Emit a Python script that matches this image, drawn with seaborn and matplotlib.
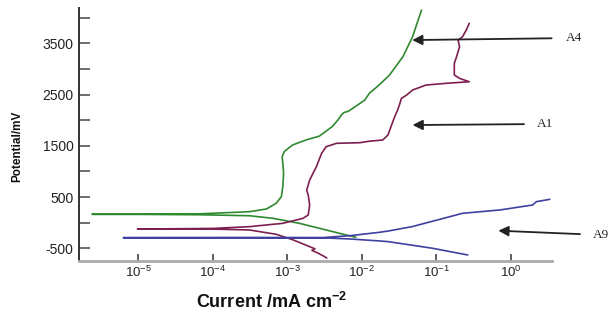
import numpy as np
import pandas as pd
import matplotlib
matplotlib.use("Agg")
import matplotlib.pyplot as plt
import seaborn as sns

# ---- data (log10 of current density in mA cm^-2, potential in mV) ----
a4_logi = [-2.08, -2.21, -2.48, -2.84, -3.19, -3.51, -4.2, -5.0, -5.62,
           -5.0, -4.2, -3.51, -3.28, -3.15, -3.08, -3.06, -3.05, -3.06, -3.07,
           -3.04, -2.93, -2.75, -2.57, -2.40, -2.32, -2.27, -2.24, -2.18, -2.09,
           -1.96, -1.90, -1.76, -1.63, -1.45, -1.32, -1.20]
a4_E = [-285, -240, -142, -12, 85, 136, 155, 162, 164,
        166, 172, 214, 267, 378, 508, 706, 966, 1159, 1288,
        1390, 1516, 1614, 1690, 1873, 2006, 2110, 2150, 2175, 2264,
        2394, 2524, 2700, 2880, 3239, 3629, 4150]

a1_logi = [-2.47, -2.50, -2.58, -2.67, -2.63, -2.70, -2.92, -3.15, -3.51, -4.0,
           -4.5, -5.01, -4.5, -4.0, -3.51, -3.06, -2.79, -2.72, -2.70, -2.72,
           -2.74, -2.70, -2.61, -2.54, -2.48, -2.34, -2.03, -1.90, -1.72, -1.65,
           -1.61, -1.56, -1.52, -1.49, -1.47, -1.40, -1.32, -1.14, -0.87, -0.56,
           -0.69, -0.76, -0.76, -0.73, -0.69, -0.71, -0.65, -0.60, -0.56]
a1_E = [-690, -663, -600, -540, -510, -468, -337, -226, -142, -125,
        -122, -125, -118, -112, -78, -12, 85, 150, 345, 540,
        637, 833, 1093, 1354, 1483, 1549, 1561, 1590, 1614, 1711,
        1873, 2068, 2199, 2329, 2427, 2491, 2589, 2686, 2720, 2751,
        2817, 2882, 3110, 3239, 3434, 3564, 3629, 3759, 3890]

a9_logi = [-0.58, -1.05, -1.64, -1.76, -2.16, -2.52, -3.5, -4.5, -5.20,
           -4.5, -3.5, -2.52, -2.16, -1.76, -1.64, -1.32, -0.65, -0.15, 0.29,
           0.34, 0.52]
a9_E = [-630, -500, -371, -357, -318, -296, -293, -293, -293,
        -292, -291, -290, -254, -187, -161, -75, 183, 248, 345,
        410, 456]

series_names = ["A4", "A1", "A9"]
series_colors = ["#2f8a2f", "#7d1f50", "#4040a0"]

y_major = [-500, 500, 1500, 2500, 3500]
y_minor = [0, 1000, 2000, 3000, 4000]
x_ticks = [1e-5, 1e-4, 1e-3, 1e-2, 1e-1, 1e0]
x_ticklabels = [r"$\mathregular{10^{-5}}$", r"$\mathregular{10^{-4}}$",
                r"$\mathregular{10^{-3}}$", r"$\mathregular{10^{-2}}$",
                r"$\mathregular{10^{-1}}$", r"$\mathregular{10^{0}}$"]

# annotation arrow tips (log10 current, potential)
ann_tip_logi = [-1.325, -1.32, -0.17]
ann_tip_E = [3564, 1906, -156]

rows = []
for name, li, ee in zip(series_names, [a4_logi, a1_logi, a9_logi], [a4_E, a1_E, a9_E]):
    for k, (l, e) in enumerate(zip(li, ee)):
        rows.append({"series": name, "order": k, "current": 10.0 ** l, "potential": e})
df = pd.DataFrame(rows)

sns.set_style("ticks")
plt.rcParams["font.family"] = ["Liberation Sans", "DejaVu Sans"]
plt.rcParams["mathtext.fontset"] = "custom"
plt.rcParams["mathtext.rm"] = "Liberation Sans"

W, H = 613, 320
fig = plt.figure(figsize=(W / 100, H / 100), dpi=100)
ax = fig.add_axes([79.3 / W, (H - 260.5) / H, (552 - 79.3) / W, (260.5 - 8) / H])

sns.lineplot(data=df, x="current", y="potential", hue="series",
             palette=dict(zip(series_names, series_colors)),
             sort=False, estimator=None, legend=False, lw=1.2, ax=ax)

ax.set_xscale("log")
ax.set_xlim(10 ** -5.79, 10 ** 0.55)
ax.set_ylim(-738, 4190)

ax.set_xticks(x_ticks)
ax.set_xticklabels(x_ticklabels, fontsize=9.5, color="#222222")
ax.xaxis.set_minor_locator(matplotlib.ticker.NullLocator())
ax.set_yticks(y_major)
ax.set_yticklabels([str(v) for v in y_major], fontsize=10, color="#222222")
ax.set_yticks(y_minor, minor=True)

ax.tick_params(axis="y", which="both", direction="in", length=8, width=1.1,
               color="#444444", pad=4)
ax.tick_params(axis="x", which="both", direction="in", length=5, width=1.2,
               color="#444444", pad=3)

ax.set_xlabel("")
ax.set_ylabel("")
for s in ["top", "right"]:
    ax.spines[s].set_visible(False)
ax.spines["left"].set_color("#333333")
ax.spines["left"].set_linewidth(1.4)
ax.spines["bottom"].set_color("#aaaaaa")
ax.spines["bottom"].set_linewidth(2.0)

fig.text(17.5 / W, 1 - 146.7 / H, "Potential/mV", rotation=90, fontsize=8.5,
         fontweight="bold", ha="center", va="center", color="#111111")
fig.text(272 / W, 12 / H, r"Current /mA cm$\mathregular{^{-2}}$", fontsize=13,
         fontweight="bold", ha="center", va="baseline", color="#111111")

ann_text_px = [(566, H - 38), (537, H - 124), (593, H - 235)]
ann_shrink = [8, 7, 7]
for name, li, e, (tx, ty), sh in zip(series_names, ann_tip_logi, ann_tip_E, ann_text_px, ann_shrink):
    ax.annotate(name, xy=(10 ** li, e), xycoords="data",
                xytext=(tx, ty), textcoords="figure pixels",
                ha="left", va="center", fontsize=9.5,
                family=["Liberation Serif", "DejaVu Serif"], color="#222222",
                annotation_clip=False,
                arrowprops=dict(arrowstyle="-|>", color="#222222", lw=1.3,
                                mutation_scale=15, shrinkA=sh, shrinkB=0))

fig.savefig("out.png", dpi=100, facecolor="white")
